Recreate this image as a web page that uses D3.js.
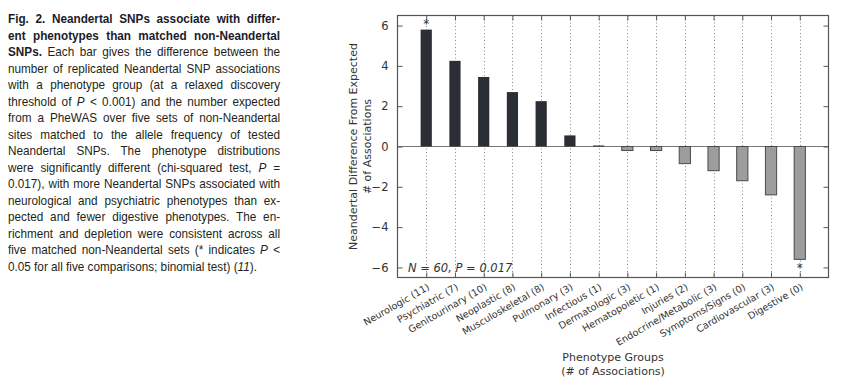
<!DOCTYPE html>
<html><head><meta charset="utf-8">
<script src="https://cdn.jsdelivr.net/npm/d3@7"></script>
<style>html,body{margin:0;padding:0;background:#fff;}svg{display:block;}</style>
</head><body>
<svg id="c" width="844" height="390"></svg>
<script>
const categories = ["Neurologic (11)","Psychiatric (7)","Genitourinary (10)","Neoplastic (8)","Musculoskeletal (8)","Pulmonary (3)","Infectious (1)","Dermatologic (3)","Hematopoietic (1)","Injuries (2)","Endocrine/Metabolic (3)","Symptoms/Signs (0)","Cardiovascular (3)","Digestive (0)"];
const values = [5.8, 4.25, 3.45, 2.7, 2.25, 0.55, 0.05, -0.2, -0.2, -0.85, -1.2, -1.7, -2.4, -5.6];
const significant = [true,false,false,false,false,false,false,false,false,false,false,false,false,true];
const yTicks = [-6,-4,-2,0,2,4,6];
const annotation = "N = 60, P = 0.017";

const caption = [
 [["b","Fig. 2. Neandertal SNPs associate with differ-"]],
 [["b","ent phenotypes than matched non-Neandertal"]],
 [["b","SNPs."],["r"," Each bar gives the difference between the"]],
 [["r","number of replicated Neandertal SNP associations"]],
 [["r","with a phenotype group (at a relaxed discovery"]],
 [["r","threshold of "],["i","P"],["r"," < 0.001) and the number expected"]],
 [["r","from a PheWAS over five sets of non-Neandertal"]],
 [["r","sites matched to the allele frequency of tested"]],
 [["r","Neandertal SNPs. The phenotype distributions"]],
 [["r","were significantly different (chi-squared test, "],["i","P"],["r"," ="]],
 [["r","0.017), with more Neandertal SNPs associated with"]],
 [["r","neurological and psychiatric phenotypes than ex-"]],
 [["r","pected and fewer digestive phenotypes. The en-"]],
 [["r","richment and depletion were consistent across all"]],
 [["r","five matched non-Neandertal sets (* indicates "],["i","P"],["r"," <"]],
 [["r","0.05 for all five comparisons; binomial test) ("],["i","11"],["r",")."]]
];

const svg = d3.select("#c");

// ---- caption ----
const capX0 = 8, capW = 272, capY0 = 23.5, capLH = 16.5, capFS = 13.2;
const capG = svg.append("g").attr("font-family","'Liberation Sans', Arial, sans-serif")
  .attr("font-size", capFS).attr("fill","#231f20");
const texts = caption.map((line,i)=>{
  const t = capG.append("text").attr("y", capY0 + i*capLH).attr("x",0);
  line.forEach(([s,str])=>{
    const ts = t.append("tspan").text(str);
    if(s==="b") ts.attr("font-weight","bold").attr("fill","#1b1b2a");
    if(s==="i") ts.attr("font-style","italic");
  });
  return t;
});
const widths = texts.map(t=>t.node().getComputedTextLength());
const maxW = d3.max(widths.slice(0,15));
const sx = Math.min(1, (capW-4)/maxW);
capG.attr("transform",`translate(${capX0},0) scale(${sx},1)`);
texts.forEach((t,i)=>{
  if(i===15) return;
  const str = caption[i].map(d=>d[1]).join("");
  const nSp = (str.match(/ /g)||[]).length;
  const extra = (capW/sx - widths[i]) / nSp;
  t.attr("word-spacing", extra);
});

// ---- chart ----
const L = 397.5, R = 828.5, T = 15.5, B = 277.5;
const x = d3.scaleLinear().domain([0, categories.length+1]).range([L, R]);
const y = d3.scaleLinear().domain([-6.5, 6.5]).range([B, T]);
const step = x(1)-x(0);
const bw = step*0.39;
const chart = svg.append("g").attr("font-family","'DejaVu Sans', sans-serif");

// grid lines
chart.append("g").selectAll("line").data(categories).join("line")
  .attr("x1",(d,i)=>Math.round(x(i+1))+0.5).attr("x2",(d,i)=>Math.round(x(i+1))+0.5)
  .attr("y1",T).attr("y2",B)
  .attr("stroke","#888").attr("stroke-width",1).attr("stroke-dasharray","1,2.5");

// zero line
chart.append("line").attr("x1",L).attr("x2",R).attr("y1",y(0)).attr("y2",y(0))
  .attr("stroke","#777").attr("stroke-width",1.2);

// bars
chart.append("g").selectAll("rect").data(values).join("rect")
  .attr("x",(d,i)=>x(i+1)-bw/2).attr("width",bw)
  .attr("y",d=>y(Math.max(0,d))).attr("height",d=>Math.abs(y(d)-y(0)))
  .attr("fill",d=>d>=0?"#2b2e35":"#9d9d9d")
  .attr("stroke",d=>d>=0?"none":"#4a4a4a").attr("stroke-width",1);

// frame
chart.append("rect").attr("x",L).attr("y",T).attr("width",R-L).attr("height",B-T)
  .attr("fill","none").attr("stroke","#555").attr("stroke-width",1.2);

// y axis (ticks inward)
const yAxL = d3.axisLeft(y).tickValues(yTicks).tickSize(-5).tickPadding(9)
  .tickFormat(d=>d<0?"\u2212"+Math.abs(d):d);
const gyl = chart.append("g").attr("transform",`translate(${L},0)`).call(yAxL);
const yAxR = d3.axisRight(y).tickValues(yTicks).tickSize(-5).tickFormat("");
const gyr = chart.append("g").attr("transform",`translate(${R},0)`).call(yAxR);
// x axis ticks inward top & bottom
const xt = d3.range(1, categories.length+1);
const xAxB = d3.axisBottom(x).tickValues(xt).tickSize(-5).tickFormat((d)=>categories[d-1]).tickPadding(8);
const gxb = chart.append("g").attr("transform",`translate(0,${B})`).call(xAxB);
const xAxT = d3.axisTop(x).tickValues(xt).tickSize(-5).tickFormat("");
const gxt = chart.append("g").attr("transform",`translate(0,${T})`).call(xAxT);
[gyl,gyr,gxb,gxt].forEach(g=>{
  g.select(".domain").remove();
  g.selectAll(".tick line").attr("stroke","#555");
  g.selectAll("text").attr("font-family","'DejaVu Sans', sans-serif").attr("fill","#333");
});
gyl.selectAll("text").attr("font-size",11.5);
gxb.selectAll("text").attr("font-size",9.6)
  .attr("text-anchor","end").attr("dy","0.3em")
  .attr("transform","translate(-2,2) rotate(-30)");

// significance stars
chart.append("g").selectAll("text").data(values.map((v,i)=>({v,i})).filter(d=>significant[d.i])).join("text")
  .attr("x",d=>x(d.i+1)).attr("y",d=>d.v>0?y(d.v)-2:y(d.v)+13)
  .attr("text-anchor","middle").attr("font-size",12).attr("fill","#333").text("*");

// annotation
chart.append("text").attr("x",408).attr("y",y(-6)+4.5).attr("font-size",11.5)
  .attr("font-style","italic").attr("fill","#333").text(annotation);

// axis labels
const yl = chart.append("text").attr("transform",`translate(357,${(T+B)/2}) rotate(-90)`)
  .attr("text-anchor","middle").attr("font-size",11).attr("fill","#333");
yl.append("tspan").attr("x",0).attr("dy",0).text("Neandertal Difference From Expected");
yl.append("tspan").attr("x",0).attr("dy",13.5).text("# of Associations");
const xl = chart.append("text").attr("transform",`translate(613,361)`)
  .attr("text-anchor","middle").attr("font-size",11).attr("fill","#333");
xl.append("tspan").attr("x",0).attr("dy",0).text("Phenotype Groups");
xl.append("tspan").attr("x",0).attr("dy",14).text("(# of Associations)");
</script>
</body></html>
